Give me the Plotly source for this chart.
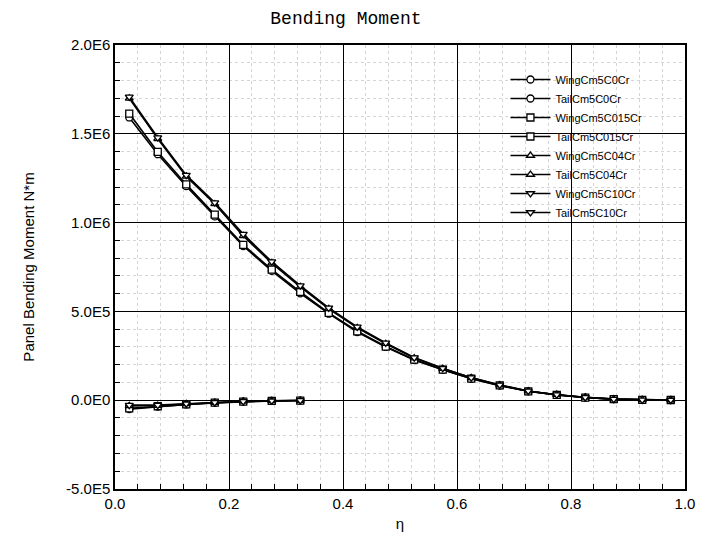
import plotly.graph_objects as go

eta = [0.025, 0.075, 0.125, 0.175, 0.225, 0.275, 0.325, 0.375, 0.425, 0.475,
       0.525, 0.575, 0.625, 0.675, 0.725, 0.775, 0.825, 0.875, 0.925, 0.975]
eta_tail = eta[:7]

wing_c0 = [1.592e6, 1.385e6, 1.205e6, 1.035e6, 0.868e6, 0.728e6, 0.602e6, 0.487e6, 0.384e6, 0.300e6,
           0.226e6, 0.171e6, 0.121e6, 0.082e6, 0.050e6, 0.030e6, 0.015e6, 0.006e6, 0.002e6, 0.001e6]
wing_c015 = [1.614e6, 1.398e6, 1.215e6, 1.045e6, 0.875e6, 0.735e6, 0.610e6, 0.492e6, 0.388e6, 0.302e6,
             0.228e6, 0.172e6, 0.122e6, 0.083e6, 0.050e6, 0.030e6, 0.015e6, 0.006e6, 0.002e6, 0.001e6]
wing_c04 = [1.700e6, 1.472e6, 1.260e6, 1.105e6, 0.925e6, 0.772e6, 0.638e6, 0.514e6, 0.408e6, 0.318e6,
            0.237e6, 0.178e6, 0.126e6, 0.085e6, 0.051e6, 0.031e6, 0.016e6, 0.006e6, 0.002e6, 0.001e6]
wing_c10 = [1.708e6, 1.479e6, 1.267e6, 1.113e6, 0.935e6, 0.780e6, 0.645e6, 0.520e6, 0.413e6, 0.323e6,
            0.240e6, 0.180e6, 0.127e6, 0.086e6, 0.052e6, 0.031e6, 0.016e6, 0.006e6, 0.002e6, 0.001e6]

tail_c0 = [-50000, -36000, -24000, -15000, -8000, -4000, -2000]
tail_c015 = [-46000, -34000, -23000, -14000, -8000, -4000, -2000]
tail_c04 = [-32000, -30000, -21000, -13000, -7000, -4000, -2000]
tail_c10 = [-28000, -28000, -20000, -12000, -7000, -3000, -1500]

names = ["WingCm5C0Cr", "TailCm5C0Cr", "WingCm5C015Cr", "TailCm5C015Cr",
         "WingCm5C04Cr", "TailCm5C04Cr", "WingCm5C10Cr", "TailCm5C10Cr"]
series = [(eta, wing_c0), (eta_tail, tail_c0), (eta, wing_c015), (eta_tail, tail_c015),
          (eta, wing_c04), (eta_tail, tail_c04), (eta, wing_c10), (eta_tail, tail_c10)]
symbols = ["circle", "circle", "square", "square",
           "triangle-up", "triangle-up", "triangle-down", "triangle-down"]

yticks = [-5e5, 0, 5e5, 1e6, 1.5e6, 2e6]
yticklabels = ["-5.0E5", "0.0E0", "5.0E5", "1.0E6", "1.5E6", "2.0E6"]
xticks = [0.0, 0.2, 0.4, 0.6, 0.8, 1.0]
xticklabels = ["0.0", "0.2", "0.4", "0.6", "0.8", "1.0"]

fig = go.Figure()
for name, (xs, ys), sym in zip(names, series, symbols):
    fig.add_trace(go.Scatter(
        x=xs, y=ys, name=name, mode="lines+markers",
        line=dict(color="black", width=1.6),
        marker=dict(symbol=sym, size=7, color="white", line=dict(width=1.3, color="black")),
    ))

fig.update_layout(
    width=706, height=538,
    margin=dict(l=115, r=21, t=45, b=49),
    paper_bgcolor="white", plot_bgcolor="white",
    font=dict(family="Liberation Sans, Arial", size=14, color="black"),
    title=dict(text="Bending Moment", x=0.49, xanchor="center", y=0.968, yanchor="middle",
               font=dict(family="Liberation Mono, Courier New", size=18, color="black")),
    legend=dict(x=0.685, xanchor="left", y=0.955, yanchor="top",
                bgcolor="rgba(0,0,0,0)", borderwidth=0,
                font=dict(family="Liberation Sans, Arial", size=11, color="black"),
                tracegroupgap=0, itemwidth=40),
    showlegend=True,
)

fig.update_xaxes(
    range=[0, 1], tickvals=xticks, ticktext=xticklabels, automargin=False,
    showgrid=True, gridcolor="black", gridwidth=1,
    showline=True, linecolor="black", linewidth=1.5, mirror=True,
    ticks="inside", ticklen=0, zeroline=False,
    minor=dict(dtick=0.04, showgrid=True, gridcolor="#d4d4d4", griddash="dot", gridwidth=1,
               ticks="inside", ticklen=5, tickcolor="black"),
    title=dict(text="η", font=dict(size=15), standoff=8),
    tickfont=dict(size=15),
)
fig.update_yaxes(
    range=[-5e5, 2e6], tickvals=yticks, ticktext=yticklabels, automargin=False,
    showgrid=True, gridcolor="black", gridwidth=1,
    showline=True, linecolor="black", linewidth=1.5, mirror=True,
    ticks="inside", ticklen=0, zeroline=False,
    minor=dict(dtick=1e5, showgrid=True, gridcolor="#d4d4d4", griddash="dot", gridwidth=1,
               ticks="inside", ticklen=5, tickcolor="black"),
    title=dict(text="Panel Bending Moment N*m", font=dict(size=15), standoff=28),
    tickfont=dict(size=15),
)

fig.write_html("out.html")
